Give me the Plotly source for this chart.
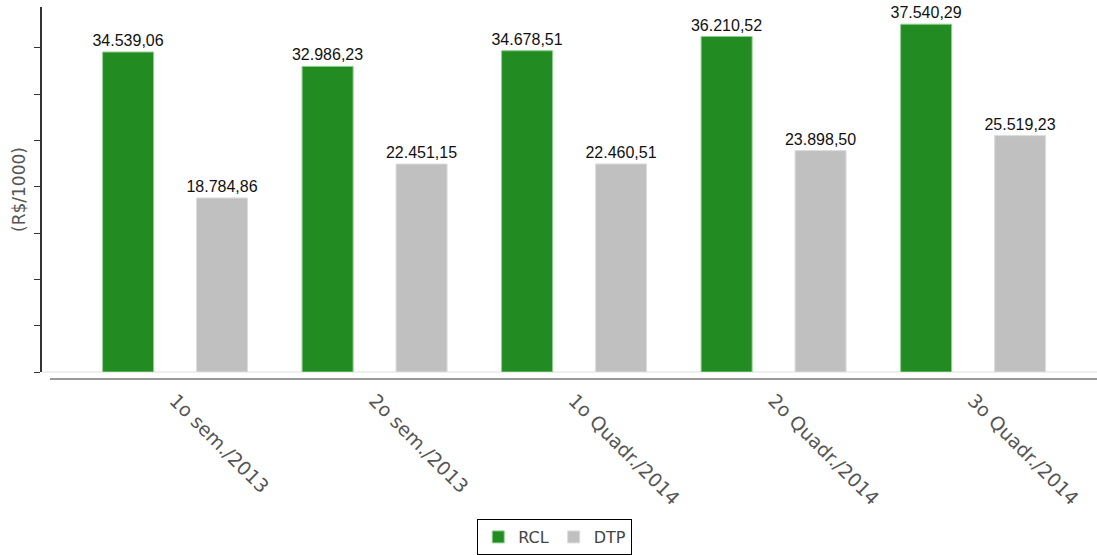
import plotly.graph_objects as go

categories = ["1o sem./2013", "2o sem./2013", "1o Quadr./2014", "2o Quadr./2014", "3o Quadr./2014"]
rcl = [34539.06, 32986.23, 34678.51, 36210.52, 37540.29]
dtp = [18784.86, 22451.15, 22460.51, 23898.50, 25519.23]


def br(v):
    s = f"{v:,.2f}"
    return s.replace(",", "X").replace(".", ",").replace("X", ".")


x_idx = list(range(len(categories)))

fig = go.Figure()
fig.add_trace(go.Bar(
    x=x_idx, y=rcl, name="RCL",
    marker=dict(color="#228B22", line=dict(color="#8fd08f", width=1)),
    text=[br(v) for v in rcl], textposition="outside", cliponaxis=False,
    constraintext="none",
    textfont=dict(family="Liberation Sans, Arial", size=16, color="#111"),
))
fig.add_trace(go.Bar(
    x=x_idx, y=dtp, name="DTP",
    marker=dict(color="#C0C0C0", line=dict(color="#dcdcdc", width=1)),
    text=[br(v) for v in dtp], textposition="outside", cliponaxis=False,
    constraintext="none",
    textfont=dict(family="Liberation Sans, Arial", size=16, color="#111"),
))

fig.update_layout(
    width=1097, height=555,
    margin=dict(l=42, r=0, t=7, b=179),
    paper_bgcolor="white", plot_bgcolor="white",
    barmode="group", bargap=0.058, bargroupgap=0.457,
    showlegend=True,
    legend=dict(
        orientation="h", x=0.486, xanchor="center", y=-0.404, yanchor="top",
        bordercolor="#000", borderwidth=1,
        font=dict(family="DejaVu Sans, Verdana", size=16, color="#444"),
        itemwidth=30, tracegroupgap=0,
    ),
    font=dict(family="DejaVu Sans, Verdana", color="#444"),
)

fig.update_xaxes(
    type="linear", range=[-0.667, 4.621],
    tickmode="array", tickvals=x_idx, ticktext=categories,
    tickangle=45, tickfont=dict(family="DejaVu Sans, Verdana", size=19, color="#555"),
    showgrid=False, zeroline=False, showline=False,
    ticks="outside", ticklen=9, tickcolor="rgba(0,0,0,0)",
)
fig.update_yaxes(
    range=[0, 39397], dtick=5000, tick0=0,
    showticklabels=False, ticks="outside", ticklen=6, tickcolor="#333", tickwidth=1,
    showline=True, linecolor="#333", linewidth=2,
    showgrid=False, zeroline=True, zerolinecolor="#eeeeee", zerolinewidth=2,
    title=dict(text="(R$/1000)", standoff=4,
               font=dict(family="DejaVu Sans, Verdana", size=17, color="#555")),
)

fig.add_shape(type="line", xref="paper", yref="paper",
              x0=0.0076, x1=1.0, y0=-0.019, y1=-0.019,
              line=dict(color="#999", width=2))

fig.write_html("out.html")
